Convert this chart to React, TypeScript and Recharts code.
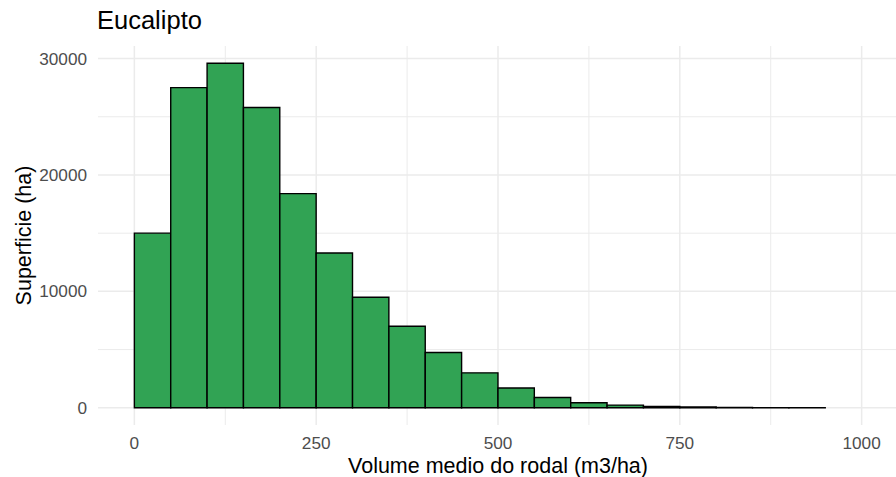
import { BarChart, Bar, XAxis, YAxis, CartesianGrid } from "recharts"

// histogram bins (m3/ha), width 50
const binStart = [0, 50, 100, 150, 200, 250, 300, 350, 400, 450, 500, 550, 600, 650, 700, 750, 800, 850, 900]
const binWidth = 50
// superficie (ha) per bin
const superficie = [15000, 27500, 29600, 25800, 18400, 13300, 9500, 7000, 4750, 3000, 1700, 880, 430, 230, 120, 70, 25, 12, 6]

const xTicks = [0, 250, 500, 750, 1000]
const xMinor = [125, 375, 625, 875]
const yTicks = [0, 10000, 20000, 30000]
const yMinor = [5000, 15000, 25000]

const xDomain = [-50, 1050]
const yDomain = [-1480, 31080]

const W = 896
const H = 477
const margin = { top: 46, right: -2, bottom: 0, left: 0 }
const yAxisW = 98
const plotW = W - margin.left - margin.right - yAxisW

const data = binStart.map((b, i) => ({ mid: b + binWidth / 2, ha: superficie[i] }))

const font = '"Liberation Sans", Arial, sans-serif'
const tickStyle = { fill: "#4d4d4d", fontSize: 17.2, fontFamily: font }

export default function App() {
  // a hair under the band so recharts does not shrink the bars to 90%
  const barSize = ((binWidth * plotW) / (xDomain[1] - xDomain[0])) * 0.999
  return (
    <div style={{ position: "absolute", left: 0, top: 0, width: W, height: H, background: "#fff", fontFamily: font }}>
      <div style={{ position: "absolute", left: 97, top: 8.4, fontSize: 25.5, lineHeight: 1, color: "#000" }}>
        Eucalipto
      </div>
      <BarChart width={W} height={H} data={data} margin={margin} barCategoryGap="0%" barGap={0}>
        <CartesianGrid stroke="#ebebeb" strokeWidth={1} horizontalValues={yMinor} verticalValues={xMinor} />
        <CartesianGrid stroke="#ebebeb" strokeWidth={1.5} horizontalValues={yTicks} verticalValues={xTicks} />
        <XAxis
          dataKey="mid"
          type="number"
          domain={xDomain}
          ticks={xTicks}
          allowDataOverflow
          tickLine={false}
          axisLine={false}
          height={52}
          tickMargin={5.5}
          tick={tickStyle}
          label={{
            value: "Volume medio do rodal (m3/ha)",
            position: "insideBottom",
            offset: 4,
            fill: "#000",
            fontSize: 21.5,
            fontFamily: font,
          }}
        />
        <YAxis
          type="number"
          domain={yDomain}
          ticks={yTicks}
          allowDataOverflow
          tickLine={false}
          axisLine={false}
          width={yAxisW}
          tickMargin={5}
          tick={tickStyle}
          label={{
            value: "Superficie (ha)",
            angle: -90,
            position: "insideLeft",
            offset: 23,
            fill: "#000",
            fontSize: 21.5,
            fontFamily: font,
            style: { textAnchor: "middle" },
          }}
        />
        <Bar dataKey="ha" fill="#31a354" stroke="#000" strokeWidth={1.4} barSize={barSize} isAnimationActive={false} />
      </BarChart>
    </div>
  )
}
